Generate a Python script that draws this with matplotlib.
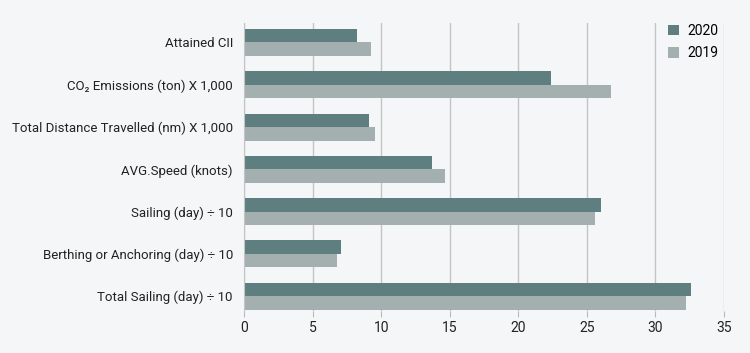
import numpy as np
import matplotlib
matplotlib.use('Agg')
from matplotlib import pyplot as plt

plt.rcParams['font.family'] = ['Roboto', 'DejaVu Sans']

# data
categories = ['Attained CII', 'CO\u2082 Emissions (ton) X 1,000',
              'Total Distance Travelled (nm) X 1,000', 'AVG.Speed (knots)',
              'Sailing (day) \u00f7 10', 'Berthing or Anchoring (day) \u00f7 10',
              'Total Sailing (day) \u00f7 10']
vals_2020 = [8.24, 22.35, 9.12, 13.72, 26.0, 7.08, 32.57]
vals_2019 = [9.29, 26.74, 9.58, 14.68, 25.56, 6.76, 32.2]
xticks = [0, 5, 10, 15, 20, 25, 30, 35]

bg = '#f5f6f8'
c2020 = '#5f7e80'
c2019 = '#a4b0b0'

figw, figh = 750.0, 353.0
fig = plt.figure(figsize=(figw/100, figh/100), dpi=100, facecolor=bg)
ax = fig.add_axes([244/figw, 1 - 311/figh, (724 - 244)/figw, (311 - 23)/figh])
ax.set_facecolor(bg)

y = np.arange(len(categories))
h = 0.32
ax.barh(y - h/2, vals_2020, height=h, color=c2020, label='2020', zorder=2)
ax.barh(y + h/2, vals_2019, height=h, color=c2019, label='2019', zorder=2)

ax.set_xlim(0, 35)
ax.set_ylim(6.35, -0.46)
ax.set_xticks(xticks)
ax.set_yticks(y)
ax.set_yticklabels(categories)
ax.tick_params(axis='y', length=0, pad=8, labelsize=9.5, labelcolor='#222222')
ax.tick_params(axis='x', length=4, color='#bbbbbb', pad=3, labelsize=10,
               labelcolor='#222222')

ax.grid(axis='x', color='#c4c4c4', linewidth=1, zorder=0)
for s in ['top', 'right', 'bottom']:
    ax.spines[s].set_visible(False)
ax.spines['left'].set_color('#c4c4c4')

leg = ax.legend(loc='upper right', bbox_to_anchor=(1.015, 1.04), frameon=False,
                fontsize=10, handlelength=0.8, handleheight=0.8,
                handletextpad=0.6, labelspacing=0.6)

fig.savefig('out.png', dpi=100, facecolor=bg)
